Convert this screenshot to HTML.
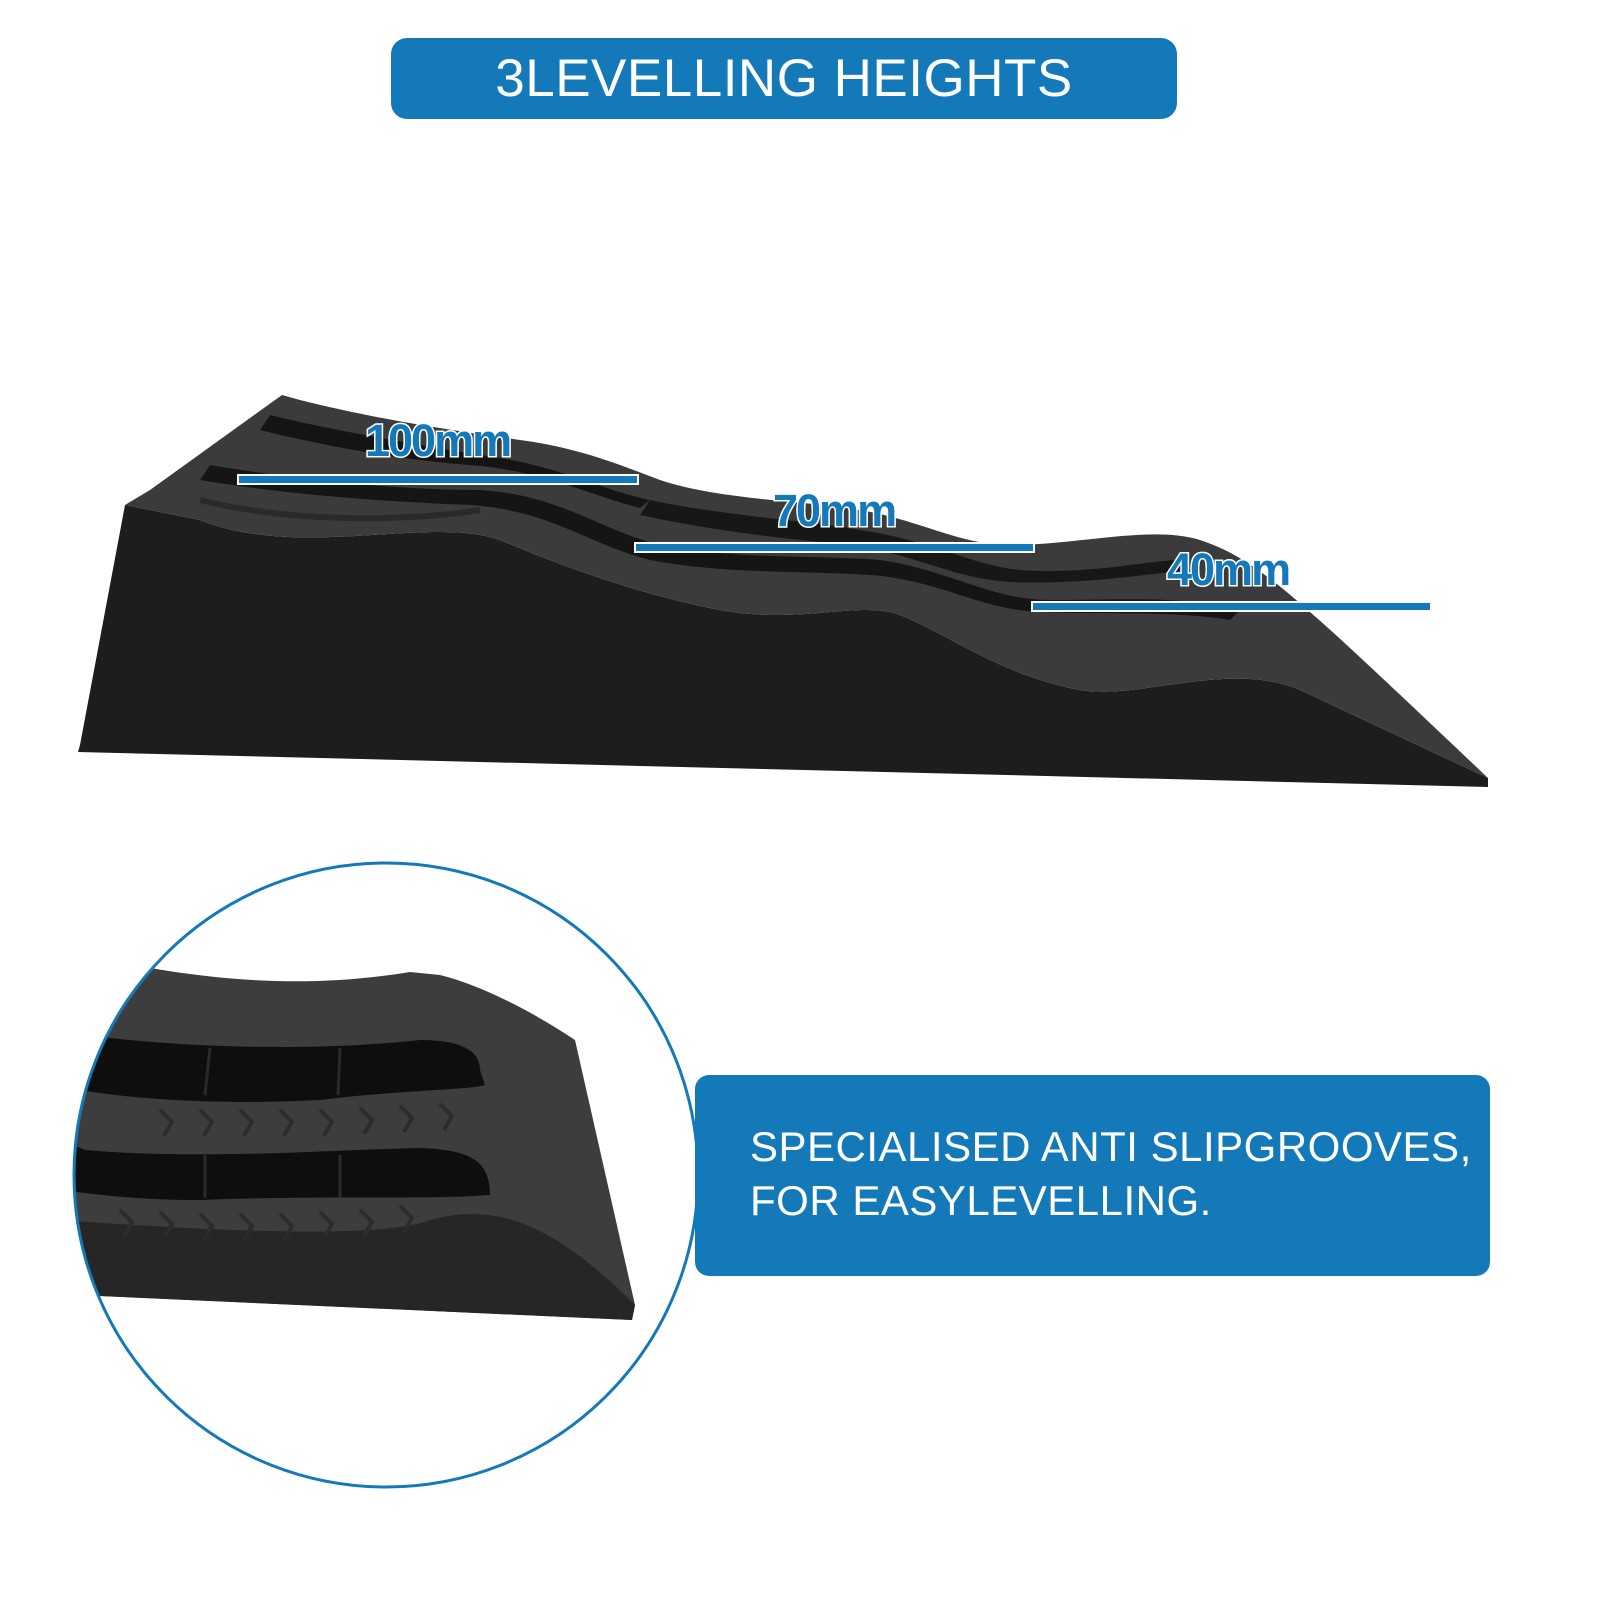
<!DOCTYPE html>
<html><head><meta charset="utf-8"><style>
html,body{margin:0;padding:0;background:#fff}
body{width:1600px;height:1600px;position:relative;overflow:hidden;font-family:"Liberation Sans","DejaVu Sans",sans-serif}
.title{position:absolute;left:391px;top:38px;width:786px;height:81px;background:#1479b8;border-radius:16px;color:#fff;font-size:53px;text-align:center;line-height:81px;letter-spacing:0.5px}
.box{position:absolute;left:695px;top:1075px;width:795px;height:201px;background:#1479b8;border-radius:14px;color:#fff;font-size:42px;line-height:54px;padding:45px 0 0 55px;box-sizing:border-box;letter-spacing:0.5px}
</style></head><body>
<div class="title">3LEVELLING HEIGHTS</div>
<svg width="1600" height="1600" style="position:absolute;left:0;top:0">
<defs>
<clipPath id="c"><circle cx="386" cy="1175" r="312"/></clipPath>
</defs>
<path d="M125,505 L80,745 L78,752 L1488,787 L1488,778 L1300,690 C1230,660 1140,700 1080,690 C1000,675 950,635 900,615 C860,600 800,625 720,610 C640,595 560,565 500,540 C430,515 300,560 200,520 Z" fill="#1d1d1d"/>
<path d="M125,505 L150,490 L282,395 L300,400 C380,420 450,430 520,440 C580,448 620,465 660,480 C720,500 800,500 860,510 C920,520 960,545 1010,545 C1080,545 1150,525 1200,540 C1260,560 1300,600 1488,778 L1300,690 C1230,660 1140,700 1080,690 C1000,675 950,635 900,615 C860,600 800,625 720,610 C640,595 560,565 500,540 C430,515 300,560 200,520 Z" fill="#3b3b3b"/>
<path d="M270,415 C330,430 420,445 480,455 C560,465 600,490 650,500 L640,508 C590,495 540,470 470,465 C400,460 320,445 260,430 Z" fill="#141414"/>
<path d="M210,465 C300,480 400,490 480,490 C560,495 600,530 660,545 C740,560 820,555 880,560 C950,570 990,600 1050,600 C1120,600 1180,595 1240,610 L1230,620 C1170,610 1100,615 1040,612 C980,610 940,580 870,575 C800,570 730,575 650,560 C590,545 550,510 470,505 C390,502 290,495 200,480 Z" fill="#151515"/>
<path d="M650,500 C720,515 800,520 860,530 C930,540 970,565 1020,570 C1090,575 1150,560 1180,560 L1190,570 C1140,575 1080,585 1010,582 C950,578 920,555 850,545 C780,538 720,532 640,515 Z" fill="#171717"/>
<path d="M200,500 C300,525 420,520 480,510" stroke="#2a2a2a" stroke-width="6" fill="none"/>
<rect x="237" y="474" width="402" height="11" fill="#fff"/><rect x="239" y="476" width="398" height="7" fill="#1479b8"/>
<rect x="634" y="542" width="401" height="11" fill="#fff"/><rect x="636" y="544" width="397" height="7" fill="#1479b8"/>
<rect x="1031" y="601" width="400" height="11" fill="#fff"/><rect x="1033" y="603" width="397" height="7" fill="#1479b8"/>
<g font-family="Liberation Sans, sans-serif" font-size="45" font-weight="bold" fill="#1479b8" stroke="#fff" stroke-width="3" paint-order="stroke" letter-spacing="-2">
<text x="365" y="456">100mm</text>
<text x="773" y="526">70mm</text>
<text x="1167" y="585">40mm</text>
</g>
<g clip-path="url(#c)">
<path d="M150,968 C250,985 330,985 410,972 L440,975 C480,985 530,1010 575,1040 L635,1305 L632,1320 L100,1296 L60,1300 L60,1030 Z" fill="#3d3d3d"/>
<path d="M60,1220 C200,1230 380,1240 430,1220 C500,1200 560,1230 635,1305 L632,1320 L100,1296 L60,1300 Z" fill="#262626"/>
<path d="M60,1040 L85,1035 C200,1050 330,1050 420,1040 C460,1040 480,1050 480,1070 L485,1085 C470,1090 400,1090 320,1100 C220,1105 140,1100 80,1090 L60,1095 Z" fill="#0e0e0e"/>
<path d="M60,1140 L85,1150 C200,1160 330,1150 420,1148 C470,1150 490,1160 490,1195 C420,1200 330,1195 200,1200 C140,1200 100,1195 60,1190 Z" fill="#0e0e0e"/>
<g stroke="#2a2a2a" stroke-width="3"><line x1="210" y1="1048" x2="205" y2="1095"/><line x1="340" y1="1048" x2="338" y2="1095"/><line x1="205" y1="1155" x2="205" y2="1198"/><line x1="340" y1="1155" x2="340" y2="1198"/></g>
<g stroke="#2c2c2c" stroke-width="4" fill="none">
<path d="M160,1110 l12,12 l-8,14 M200,1110 l12,12 l-8,14 M240,1110 l12,12 l-8,14 M280,1110 l12,12 l-8,14 M320,1110 l12,12 l-8,14 M360,1108 l12,12 l-8,14 M400,1106 l12,12 l-8,14 M440,1104 l12,12 l-8,14"/>
<path d="M120,1210 l12,12 l-8,14 M160,1212 l12,12 l-8,14 M200,1214 l12,12 l-8,14 M240,1214 l12,12 l-8,14 M280,1214 l12,12 l-8,14 M320,1212 l12,12 l-8,14 M360,1210 l12,12 l-8,14 M400,1206 l12,12 l-8,14"/>
</g>
</g>
<circle cx="386" cy="1175" r="312" fill="none" stroke="#1479b8" stroke-width="3"/>
</svg>
<div class="box">SPECIALISED ANTI SLIPGROOVES,<br>FOR EASYLEVELLING.</div>
</body></html>
